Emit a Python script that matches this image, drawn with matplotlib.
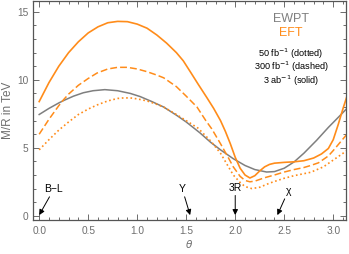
import numpy as np
import matplotlib
matplotlib.use("Agg")
import matplotlib.pyplot as plt
from matplotlib.ticker import MultipleLocator

plt.rcParams['font.family'] = ['Liberation Sans', 'DejaVu Sans']

# EWPT bound (gray)
th_ewpt = [0.00, 0.10, 0.20, 0.25, 0.35, 0.45, 0.55, 0.67, 0.80, 0.93, 1.03, 1.15,
           1.27, 1.40, 1.50, 1.57, 1.64, 1.75, 1.85, 1.98, 2.10, 2.20, 2.32, 2.40,
           2.50, 2.60, 2.70, 2.83, 2.95, 3.07, 3.14]
m_ewpt = [7.45, 7.9, 8.3, 8.48, 8.8, 9.05, 9.2, 9.28, 9.2, 9.0, 8.77, 8.4,
          8.0, 7.4, 6.9, 6.5, 6.1, 5.4, 4.85, 4.2, 3.7, 3.4, 3.22, 3.25,
          3.5, 3.96, 4.6, 5.55, 6.5, 7.38, 7.9]

# EFT, 3 ab^-1 (solid)
th_3ab = [0.00, 0.10, 0.20, 0.30, 0.40, 0.50, 0.60, 0.70, 0.80, 0.90, 1.00, 1.10,
          1.20, 1.30, 1.40, 1.47, 1.55, 1.62, 1.71, 1.78, 1.85, 1.90, 1.95, 2.00,
          2.05, 2.10, 2.15, 2.20, 2.25, 2.30, 2.35, 2.40, 2.50, 2.60, 2.70, 2.80,
          2.88, 2.95, 3.00, 3.05, 3.10, 3.14]
m_3ab = [8.4, 9.8, 11.0, 12.0, 12.8, 13.45, 13.9, 14.2, 14.3, 14.28, 14.1, 13.8,
         13.3, 12.7, 12.0, 11.4, 10.5, 9.7, 8.7, 7.9, 7.0, 6.2, 5.3, 4.3,
         3.5, 3.0, 2.78, 2.95, 3.3, 3.6, 3.78, 3.87, 3.93, 3.97, 4.05, 4.25,
         4.55, 4.95, 5.6, 6.7, 7.9, 8.8]

# EFT, 300 fb^-1 (dashed)
th_300 = [0.00, 0.10, 0.20, 0.25, 0.30, 0.40, 0.50, 0.59, 0.70, 0.80, 0.90, 1.00,
          1.10, 1.20, 1.27, 1.40, 1.50, 1.61, 1.70, 1.76, 1.85, 1.92, 1.98, 2.05,
          2.10, 2.15, 2.20, 2.30, 2.40, 2.49, 2.60, 2.70, 2.77, 2.85, 2.95, 3.00,
          3.07, 3.14]
m_300 = [6.0, 7.1, 8.1, 8.55, 8.95, 9.6, 10.1, 10.5, 10.8, 10.92, 10.92, 10.8,
         10.6, 10.35, 10.15, 9.5, 8.8, 8.0, 7.0, 6.4, 5.3, 4.4, 3.6, 2.9,
         2.6, 2.5, 2.55, 2.8, 3.0, 3.2, 3.4, 3.55, 3.7, 3.9, 4.4, 4.8,
         5.4, 6.0]

# EFT, 50 fb^-1 (dotted)
th_50 = [0.00, 0.10, 0.20, 0.25, 0.30, 0.40, 0.50, 0.59, 0.70, 0.80, 0.86, 0.93,
         1.00, 1.10, 1.20, 1.27, 1.40, 1.50, 1.62, 1.75, 1.85, 1.98, 2.05, 2.10,
         2.17, 2.25, 2.35, 2.49, 2.60, 2.77, 2.90, 3.00, 3.07, 3.14]
m_50 = [4.85, 5.6, 6.3, 6.6, 6.9, 7.45, 7.85, 8.15, 8.45, 8.63, 8.67, 8.67,
        8.6, 8.45, 8.2, 8.0, 7.45, 7.0, 6.45, 5.5, 4.6, 3.0, 2.45, 2.15,
        2.0, 2.1, 2.4, 2.74, 2.95, 3.2, 3.6, 4.1, 4.45, 4.8]

# benchmark models marked with arrows
models = ['B−L', 'Y', '3R', 'χ']
model_th = [0.0, 1.54, 2.0, 2.43]
label_pos = [(0.15, 1.6), (1.46, 1.6), (2.0, 1.7), (2.54, 1.45)]

orange = '#ff8c1a'
gray = '#7f7f7f'
tickc = '#6e6e6e'

fig = plt.figure(figsize=(3.49, 2.54), dpi=100)
ax = fig.add_axes([33/349, 1 - 220/254, 313/349, 219/254])

ax.plot(th_ewpt, m_ewpt, color=gray, lw=1.1)
ax.plot(th_3ab, m_3ab, color=orange, lw=1.2)
ax.plot(th_300, m_300, color=orange, lw=1.1, linestyle=(0, (4.5, 2)))
ax.plot(th_50, m_50, color=orange, lw=1.2, linestyle=(0, (1, 1.6)))

for name, th, pos in zip(models, model_th, label_pos):
    ax.annotate(name, xy=(th, 0.05), xytext=pos, ha='center', va='bottom',
                fontsize=7.5,
                arrowprops=dict(arrowstyle='-|>', color='black', lw=0.7,
                                mutation_scale=8, shrinkA=0, shrinkB=0))

ax.text(2.57, 14.46, 'EWPT', color=gray, fontsize=9, ha='center', va='center')
ax.text(2.57, 13.48, 'EFT', color=orange, fontsize=9, ha='center', va='center')
ax.text(2.57, 11.95, '50 fb$^{-1}$ (dotted)', fontsize=6.6, ha='center', va='center')
ax.text(2.57, 10.95, '300 fb$^{-1}$ (dashed)', fontsize=6.6, ha='center', va='center')
ax.text(2.57, 9.94, '3 ab$^{-1}$ (solid)', fontsize=6.6, ha='center', va='center')

ax.set_xlim(-0.063, 3.13)
ax.set_ylim(-0.31, 15.8)
ax.xaxis.set_major_locator(MultipleLocator(0.5))
ax.xaxis.set_minor_locator(MultipleLocator(0.1))
ax.yaxis.set_major_locator(MultipleLocator(5))
ax.yaxis.set_minor_locator(MultipleLocator(1))
ax.xaxis.set_major_formatter(plt.FuncFormatter(lambda v, p: '%.1f' % v))
ax.tick_params(which='both', direction='in', top=True, right=True,
               color='#555555', labelcolor=tickc, labelsize=7.3, width=0.6)
ax.tick_params(which='major', length=4)
ax.tick_params(which='minor', length=2)
ax.tick_params(axis='x', pad=4)
for s in ax.spines.values():
    s.set_color('#555555')
    s.set_linewidth(0.9)

ax.set_xlabel('$\\theta$', color=tickc, fontsize=7.5, labelpad=2)
ax.set_ylabel('M/R in TeV', color=tickc, fontsize=8.5, labelpad=2)

fig.savefig('out.png', dpi=100)
